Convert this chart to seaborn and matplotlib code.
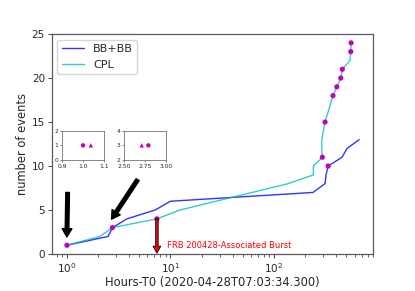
import numpy as np
import pandas as pd
import seaborn as sns
import matplotlib.pyplot as plt

# cumulative number of events vs hours since T0
bb_hours = [1.0, 2.5, 2.75, 3.8, 7.1, 10.0, 238, 311, 318, 333, 454, 507, 664]
bb_events = [1, 2, 3, 4, 5, 6, 7, 8, 9, 10, 11, 12, 13]

cpl_hours = [1.0, 2.08, 2.75, 7.4, 12.3, 137, 240, 240, 293, 289, 289, 300, 311,
             330, 350, 371, 404, 441, 457, 542, 551, 555]
cpl_events = [1, 2, 3, 4, 5, 8, 9, 10, 11, 12, 13, 14, 15,
              16, 17, 18, 19, 20, 21, 22, 23, 24]

# highlighted events
dot_hours = [1.0, 2.75, 7.4, 333, 293, 311, 371, 404, 441, 457, 551, 555]
dot_events = [1, 3, 4, 10, 11, 15, 18, 19, 20, 21, 23, 24]

# zoom-in insets
ins1_dot = ([1.0], [1])
ins1_tri = ([1.037], [1])
ins2_dot = ([2.79], [3])
ins2_tri = ([2.71], [3])

sns.set_style('ticks')
plt.rcParams['font.family'] = ['DejaVu Sans']

fig = plt.figure(figsize=(4.15, 2.91), dpi=100)
ax = fig.add_axes([0.125, 0.127, 0.774, 0.756])

bb = pd.DataFrame({'hours': bb_hours, 'events': bb_events})
cpl = pd.DataFrame({'hours': cpl_hours, 'events': cpl_events})
sns.lineplot(data=bb, x='hours', y='events', ax=ax, sort=False, estimator=None,
             color='blue', alpha=0.8, lw=1, label='BB+BB')
sns.lineplot(data=cpl, x='hours', y='events', ax=ax, sort=False, estimator=None,
             color='c', alpha=0.8, lw=1, label='CPL')
sns.scatterplot(x=dot_hours, y=dot_events, ax=ax, color='m', s=14,
                edgecolor='none', zorder=3)

ax.set_xscale('log')
ax.set_xlim(0.716, 905)
ax.set_ylim(0, 25)
ax.set_xlabel('Hours-T0 (2020-04-28T07:03:34.300)', fontsize=8.3, labelpad=1)
ax.set_ylabel('number of events', fontsize=8.3, labelpad=2)
ax.tick_params(labelsize=7.5, length=3, width=0.6, pad=2)
ax.tick_params(which='minor', length=1.8, width=0.5)
for s in ax.spines.values():
    s.set_color('0.35')
    s.set_linewidth(0.9)

ax.legend(loc='upper left', fontsize=8, frameon=True)

# arrows
ax.annotate('', xy=(1.0, 1.94), xytext=(1.016, 7.0),
            arrowprops=dict(facecolor='black', edgecolor='black', width=2.6,
                            headwidth=7, headlength=6, shrink=0))
ax.annotate('', xy=(2.70, 3.96), xytext=(4.82, 8.45),
            arrowprops=dict(facecolor='black', edgecolor='black', width=2.6,
                            headwidth=7, headlength=6, shrink=0))
ax.annotate('', xy=(7.4, 0.1), xytext=(7.4, 4.0),
            arrowprops=dict(facecolor='red', edgecolor='black', lw=0.6, width=1.8,
                            headwidth=5.5, headlength=5, shrink=0))
ax.text(9.2, 1.0, 'FRB 200428-Associated Burst', color='red', fontsize=6, va='center')

# insets
ins1 = fig.add_axes([0.149, 0.450, 0.102, 0.101])
sns.scatterplot(x=ins1_dot[0], y=ins1_dot[1], ax=ins1, color='m', s=10, marker='o', edgecolor='none')
sns.scatterplot(x=ins1_tri[0], y=ins1_tri[1], ax=ins1, color='m', s=10, marker='^', edgecolor='none')
ins1.set_xlim(0.9, 1.1)
ins1.set_ylim(0, 2)
ins1.set_xticks([0.9, 1.0, 1.1])
ins1.set_yticks([0, 1, 2])

ins2 = fig.add_axes([0.299, 0.450, 0.101, 0.101])
sns.scatterplot(x=ins2_dot[0], y=ins2_dot[1], ax=ins2, color='m', s=10, marker='o', edgecolor='none')
sns.scatterplot(x=ins2_tri[0], y=ins2_tri[1], ax=ins2, color='m', s=10, marker='^', edgecolor='none')
ins2.set_xlim(2.5, 3.0)
ins2.set_ylim(2, 4)
ins2.set_xticks([2.5, 2.75, 3.0])
ins2.set_xticklabels(['2.50', '2.75', '3.00'])
ins2.set_yticks([2, 3, 4])

for ins in (ins1, ins2):
    ins.tick_params(labelsize=4.3, length=1.5, width=0.4, pad=1)
    for s in ins.spines.values():
        s.set_color('0.45')
        s.set_linewidth(0.6)

fig.savefig('out.png', dpi=100)
